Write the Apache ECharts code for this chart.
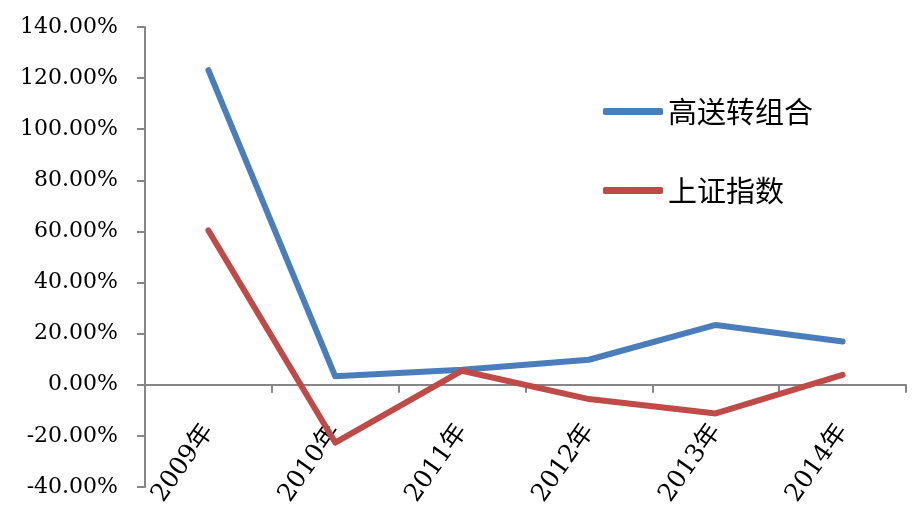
<!DOCTYPE html>
<html>
<head>
<meta charset="utf-8">
<script src="https://cdn.jsdelivr.net/npm/echarts@6/dist/echarts.min.js"></script>
<style>html,body{margin:0;padding:0;background:#fff;}#c{width:915px;height:519px;}</style>
</head>
<body>
<div id="c"></div>
<script>
const categories = ['2009年', '2010年', '2011年', '2012年', '2013年', '2014年'];
const seriesNames = ['高送转组合', '上证指数'];
const gaoSongZhuan = [123.1, 3.3, 5.9, 9.8, 23.4, 16.9];
const shangZheng = [60.4, -22.6, 5.5, -5.6, -11.2, 3.9];
const yMin = -40, yMax = 140, yStep = 20;

const fontLatin = '"DejaVu Serif", "Noto Sans CJK SC", serif';
const chart = echarts.init(document.getElementById('c'), null, {renderer: 'canvas'});
chart.setOption({
  animation: false,
  backgroundColor: '#ffffff',
  grid: {left: 145, right: 9, top: 27, bottom: 32, containLabel: false, outerBoundsMode: 'none'},
  legend: {
    orient: 'vertical', left: 598, top: 92, itemGap: 50,
    itemWidth: 60, itemHeight: 7, icon: 'roundRect',
    textStyle: {fontSize: 29, color: '#000', fontFamily: '"Noto Sans CJK SC", sans-serif'},
    data: seriesNames
  },
  xAxis: [{
    type: 'category', data: categories, boundaryGap: true,
    axisLine: {onZero: true, lineStyle: {color: '#868686', width: 2}},
    axisTick: {show: true, alignWithLabel: false, length: 8, lineStyle: {color: '#868686', width: 2}},
    axisLabel: {show: false},
    splitLine: {show: false}
  }, {
    type: 'category', data: categories, boundaryGap: true, position: 'bottom',
    axisLine: {show: false, onZero: false},
    axisTick: {show: false},
    axisLabel: {show: true, rotate: 55, margin: -60, fontSize: 25, color: '#000', fontFamily: fontLatin,
      interval: 0},
    splitLine: {show: false}
  }],
  yAxis: {
    type: 'value', min: yMin, max: yMax, interval: yStep,
    axisLine: {show: true, lineStyle: {color: '#868686', width: 2}},
    axisTick: {show: true, length: 8, lineStyle: {color: '#868686', width: 2}},
    axisLabel: {margin: 27, fontSize: 22, color: '#000', fontFamily: fontLatin,
      formatter: v => v.toFixed(2) + '%'},
    splitLine: {show: false}
  },
  series: [
    {name: seriesNames[0], type: 'line', data: gaoSongZhuan, symbol: 'none', xAxisIndex: 0,
      color: '#4A7EBB', lineStyle: {width: 6, color: '#4A7EBB', cap: 'round', join: 'round'}},
    {name: seriesNames[1], type: 'line', data: shangZheng, symbol: 'none', xAxisIndex: 0,
      color: '#BE4B48', lineStyle: {width: 6, color: '#BE4B48', cap: 'round', join: 'round'}}
  ]
});
</script>
</body>
</html>
